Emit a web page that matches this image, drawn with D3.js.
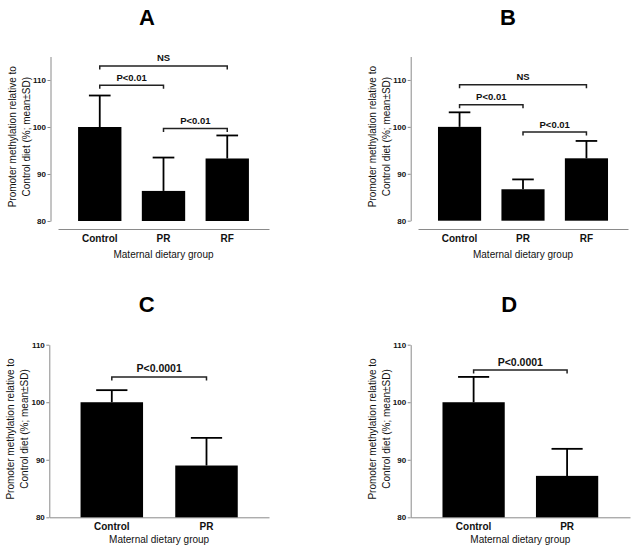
<!DOCTYPE html>
<html>
<head>
<meta charset="utf-8">
<script src="https://cdn.jsdelivr.net/npm/d3@7"></script>
<style>
  html, body { margin: 0; padding: 0; background: #fff; }
  svg { display: block; font-family: "Liberation Sans", Arial, sans-serif; }
</style>
</head>
<body>
<svg id="chart" width="643" height="551"></svg>
<script>
// ---- data ----
const panelLabels = ["A", "B", "C", "D"];
const groups3 = ["Control", "PR", "RF"];
const groups2 = ["Control", "PR"];

const meanA = [100, 86.4, 93.3];
const sdA   = [6.7, 7.1, 4.9];
const meanB = [100, 86.7, 93.3];
const sdB   = [3.1, 2.1, 3.7];
const meanC = [100, 89.0];
const sdC   = [2.1, 4.8];
const meanD = [100, 87.2];
const sdD   = [4.4, 4.7];

const yTicks = [80, 90, 100, 110];
const yTitle = ["Promoter methylation relative to", "Control diet (%; mean\u00B1SD)"];
const xTitle = "Maternal dietary group";

// comparisons: [from, to, label, level (data units)]
const compA = [["Control", "RF", "NS", 113.0], ["Control", "PR", "P<0.01", 108.9], ["PR", "RF", "P<0.01", 99.7]];
const compB = [["Control", "RF", "NS", 109.0], ["Control", "PR", "P<0.01", 104.7], ["PR", "RF", "P<0.01", 98.9]];
const compC = [["Control", "PR", "P<0.0001", 104.4]];
const compD = [["Control", "PR", "P<0.0001", 105.6]];

// ---- layout (positions) ----
const panels = [
  { label: panelLabels[0], groups: groups3, mean: meanA, sd: sdA, comps: compA,
    yDomain: [80, 115], yRange: [221, 56.5], axisX: 50.5, xRange: [58, 269], xAxisY: 229,
    padIn: 0.32, padOut: 0.315, titleX: 147, titleY: 25, catPad: 6, xTitleY: 257.5, pFont: 9.5 },
  { label: panelLabels[1], groups: groups3, mean: meanB, sd: sdB, comps: compB,
    yDomain: [80, 115], yRange: [220.7, 56.5], axisX: 410.7, xRange: [418, 628], xAxisY: 229,
    padIn: 0.32, padOut: 0.315, titleX: 508, titleY: 25, catPad: 6, xTitleY: 257.5, pFont: 9.5 },
  { label: panelLabels[2], groups: groups2, mean: meanC, sd: sdC, comps: compC,
    yDomain: [80, 110], yRange: [517.3, 344.7], axisX: 49.3, xRange: [49.3, 269], xAxisY: 517.3,
    padIn: 0.34, padOut: 0.33, titleX: 146.7, titleY: 312, catPad: 5.6, xTitleY: 542.5, pFont: 10.5 },
  { label: panelLabels[3], groups: groups2, mean: meanD, sd: sdD, comps: compD,
    yDomain: [80, 110], yRange: [517.3, 344.7], axisX: 410.7, xRange: [410.7, 630], xAxisY: 517.3,
    padIn: 0.334, padOut: 0.34, titleX: 509.3, titleY: 312, catPad: 5.6, xTitleY: 542.5, pFont: 10.5 }
];

const svg = d3.select("#chart");
const axisColor = "#8a8a8a";

panels.forEach(p => {
  const g = svg.append("g");
  const y = d3.scaleLinear().domain(p.yDomain).range(p.yRange);
  const x = d3.scaleBand().domain(p.groups).range(p.xRange)
    .paddingInner(p.padIn).paddingOuter(p.padOut);
  const bw = x.bandwidth();

  // title
  g.append("text").attr("x", p.titleX).attr("y", p.titleY)
    .attr("text-anchor", "middle").attr("font-size", 22).attr("font-weight", "bold")
    .attr("fill", "#000").text(p.label);

  // y axis
  const yAx = g.append("g").attr("transform", `translate(${p.axisX},0)`)
    .call(d3.axisLeft(y).tickValues(yTicks).tickSize(3).tickSizeOuter(0).tickPadding(1.5));
  yAx.select(".domain").attr("stroke", axisColor).attr("stroke-width", 1);
  yAx.selectAll(".tick line").attr("stroke", axisColor);
  yAx.selectAll(".tick text").attr("font-size", 8).attr("font-weight", "bold")
    .attr("fill", "#111").attr("font-family", "Liberation Sans, Arial, sans-serif");

  // x axis
  const xAx = g.append("g").attr("transform", `translate(0,${p.xAxisY})`)
    .call(d3.axisBottom(x).tickSize(0).tickSizeOuter(0).tickPadding(p.catPad));
  xAx.select(".domain").attr("stroke", axisColor).attr("stroke-width", 1);
  xAx.selectAll(".tick text").attr("font-size", 10).attr("font-weight", "bold")
    .attr("fill", "#111").attr("font-family", "Liberation Sans, Arial, sans-serif");

  // x title
  const xMid = (p.xRange[0] + p.xRange[1]) / 2;
  g.append("text").attr("x", xMid).attr("y", p.xTitleY)
    .attr("text-anchor", "middle").attr("font-size", 10).attr("fill", "#111").text(xTitle);

  // y title
  const yMid = (p.yRange[0] + p.yRange[1]) / 2 - 2;
  const yt = g.append("text").attr("transform", `translate(${p.axisX - 35},${yMid}) rotate(-90)`)
    .attr("text-anchor", "middle").attr("font-size", 10).attr("fill", "#111");
  yt.append("tspan").attr("x", 0).attr("y", 0).text(yTitle[0]);
  yt.append("tspan").attr("x", 0).attr("y", 14).text(yTitle[1]);

  const data = p.groups.map((k, i) => ({ k, m: p.mean[i], s: p.sd[i] }));

  // error bars
  g.selectAll(".err").data(data).enter().append("line")
    .attr("x1", d => x(d.k) + bw / 2).attr("x2", d => x(d.k) + bw / 2)
    .attr("y1", d => y(d.m)).attr("y2", d => y(d.m + d.s))
    .attr("stroke", "#000").attr("stroke-width", 1.8);
  g.selectAll(".cap").data(data).enter().append("line")
    .attr("x1", d => x(d.k) + bw / 4).attr("x2", d => x(d.k) + bw * 3 / 4)
    .attr("y1", d => y(d.m + d.s)).attr("y2", d => y(d.m + d.s))
    .attr("stroke", "#000").attr("stroke-width", 1.8);

  // bars
  g.selectAll(".bar").data(data).enter().append("rect")
    .attr("x", d => x(d.k)).attr("width", bw)
    .attr("y", d => y(d.m)).attr("height", d => y(p.yDomain[0]) - y(d.m))
    .attr("fill", "#000");

  // comparison brackets
  p.comps.forEach(c => {
    const x1 = x(c[0]) + bw / 2, x2 = x(c[1]) + bw / 2, yy = y(c[3]);
    g.append("path")
      .attr("d", `M${x1},${yy + 3.5}V${yy}H${x2}V${yy + 3.5}`)
      .attr("fill", "none").attr("stroke", "#222").attr("stroke-width", 1.5);
    g.append("text").attr("x", (x1 + x2) / 2).attr("y", yy - 4.5)
      .attr("text-anchor", "middle").attr("font-size", p.pFont).attr("font-weight", "bold")
      .attr("fill", "#111").text(c[2]);
  });
});
</script>
</body>
</html>
